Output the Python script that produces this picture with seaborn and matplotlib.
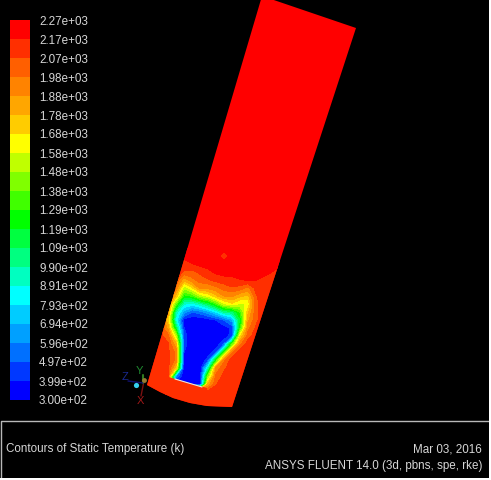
import matplotlib
matplotlib.use("Agg")
import matplotlib.pyplot as plt
from matplotlib.colors import ListedColormap
from matplotlib.patches import Polygon
import numpy as np
import seaborn as sns

# colour scale, top of the legend first
level_labels = ["2.27e+03", "2.17e+03", "2.07e+03", "1.98e+03", "1.88e+03", "1.78e+03", "1.68e+03",
                "1.58e+03", "1.48e+03", "1.38e+03", "1.29e+03", "1.19e+03", "1.09e+03", "9.90e+02",
                "8.91e+02", "7.93e+02", "6.94e+02", "5.96e+02", "4.97e+02", "3.99e+02", "3.00e+02"]
band_colors = ["#ff0000", "#ff2f00", "#ff5f00", "#ff8300", "#ffa600", "#ffcc00", "#ffff00",
               "#c0ff00", "#80ff00", "#40ff00", "#00ff00", "#00ff40", "#00ff80", "#00ffc0",
               "#00ffff", "#00ccff", "#00a0ff", "#0070ff", "#0038ff", "#0000ff"]

# tube outline, picture pixels
tube_x = [262, 356, 232, 207, 190, 173, 160, 147]
tube_y = [-4, 28, 407, 406, 403, 398, 392, 385]
inlet_x = [175, 202]
inlet_y = [379, 387]

# static temperature (K)
field_x = [144, 152, 160, 168, 176, 184, 192, 200, 208, 216, 224, 232, 240, 248, 256, 264, 272, 280]
field_y = [248, 256, 264, 272, 280, 288, 296, 304, 312, 320, 328, 336, 344, 352, 360, 368, 376, 384, 392, 400, 408]
temperature = [
    [2220, 2220, 2220, 2220, 2220, 2220, 2220, 2220, 2220, 2220, 2220, 2220, 2220, 2220, 2220, 2220, 2220, 2220],
    [2220, 2220, 2220, 2220, 2190, 2200, 2220, 2220, 2220, 2220, 2120, 2220, 2220, 2220, 2220, 2220, 2220, 2220],
    [2120, 2120, 2120, 2120, 2120, 2120, 2165, 2200, 2220, 2220, 2220, 2220, 2220, 2220, 2220, 2220, 2220, 2190],
    [2120, 2120, 2120, 2120, 2120, 2060, 2040, 2090, 2140, 2190, 2220, 2220, 2220, 2220, 2220, 2220, 2170, 2120],
    [2120, 2120, 2120, 2120, 2070, 1800, 1950, 2020, 2060, 2100, 2120, 2130, 2165, 2175, 2175, 2130, 2120, 2120],
    [2120, 2120, 2120, 2090, 1950, 1500, 1650, 1900, 1900, 1950, 2020, 2060, 2030, 1950, 2100, 2120, 2120, 2120],
    [2120, 2120, 2120, 2040, 1750, 1250, 1300, 1500, 1600, 1750, 1880, 1900, 1800, 1750, 2060, 2120, 2120, 2120],
    [2120, 2120, 2100, 1950, 1350, 900, 850, 950, 1100, 1300, 1550, 1650, 1550, 1600, 2040, 2120, 2120, 2120],
    [2120, 2120, 2060, 1850, 950, 650, 500, 550, 650, 800, 1000, 1050, 1300, 1750, 2050, 2120, 2120, 2120],
    [2120, 2120, 2030, 1700, 850, 350, 320, 320, 350, 400, 500, 650, 1150, 1850, 2050, 2120, 2120, 2120],
    [2120, 2120, 2080, 1850, 1100, 400, 300, 300, 300, 300, 350, 420, 1250, 1950, 2080, 2120, 2120, 2120],
    [2120, 2120, 2100, 2020, 1500, 450, 300, 300, 300, 300, 320, 450, 1650, 2030, 2120, 2120, 2120, 2120],
    [2120, 2120, 2120, 2080, 1800, 450, 300, 300, 300, 320, 500, 1300, 1950, 2120, 2120, 2120, 2120, 2120],
    [2120, 2120, 2120, 2090, 1950, 400, 300, 300, 320, 450, 1250, 1950, 2120, 2120, 2120, 2120, 2120, 2120],
    [2120, 2120, 2120, 2100, 1950, 330, 300, 300, 450, 1200, 1950, 2120, 2120, 2120, 2120, 2120, 2120, 2120],
    [2120, 2120, 2120, 2100, 1700, 300, 300, 300, 900, 1900, 2050, 2120, 2120, 2120, 2120, 2120, 2120, 2120],
    [2120, 2120, 2120, 2100, 600, 300, 300, 300, 1400, 2000, 2100, 2120, 2120, 2120, 2120, 2120, 2120, 2120],
    [2120, 2120, 2120, 2100, 300, 300, 300, 300, 1800, 2060, 2120, 2120, 2120, 2120, 2120, 2120, 2120, 2120],
    [2120, 2120, 2120, 2120, 2120, 2120, 2120, 2120, 2120, 2120, 2120, 2120, 2120, 2120, 2120, 2120, 2120, 2120],
    [2120, 2120, 2120, 2120, 2120, 2120, 2120, 2120, 2120, 2120, 2120, 2120, 2120, 2120, 2120, 2120, 2120, 2120],
    [2120, 2120, 2120, 2120, 2120, 2120, 2120, 2120, 2120, 2120, 2120, 2120, 2120, 2120, 2120, 2120, 2120, 2120],
]

title_text = "Contours of Static Temperature (k)"
date_text = "Mar 03, 2016"
solver_text = "ANSYS FLUENT 14.0 (3d, pbns, spe, rke)"

sns.set_theme(style="white")
plt.rcParams["font.family"] = ["Liberation Sans", "DejaVu Sans"]

W, H = 491, 480
TEXT = "#d6d6d6"
fig = plt.figure(figsize=(W / 100, H / 100), dpi=100, facecolor="white")

# main window, in picture pixels
ax = fig.add_axes([0, 2 / H, 489 / W, 478 / H])
ax.set_xlim(0, 489)
ax.set_ylim(478, 0)
ax.set_facecolor("black")
ax.set_xticks([])
ax.set_yticks([])
for sp in ax.spines.values():
    sp.set_visible(False)

levels = sorted(float(l) for l in level_labels)
cmap = ListedColormap(band_colors[::-1])

tube = Polygon(list(zip(tube_x, tube_y)), closed=True, facecolor=band_colors[0], edgecolor="none", zorder=1)
ax.add_patch(tube)
cs = ax.contourf(field_x, field_y, np.array(temperature), levels=levels, cmap=cmap, zorder=2)
cs.set_clip_path(tube)

# sharp edge below the inlet
under = Polygon([(165, 376), (207, 388), (207, 395), (165, 395)], closed=True,
                facecolor=band_colors[1], edgecolor="none", zorder=3)
ax.add_patch(under)
under.set_clip_path(tube)
ax.plot(inlet_x, inlet_y, color="#e8e8e8", lw=0.8, zorder=4)

# axis triad
ax.plot([144, 141], [381, 396], color="#7a1010", lw=1, zorder=5)
ax.plot([143, 143], [375, 383], color="#2f7a20", lw=1.5, zorder=5)
ax.plot([128, 143], [381, 383], color="#101070", lw=1, zorder=5)
ax.scatter([136], [385], s=14, color="#35d0f0", zorder=6, linewidths=0)
ax.scatter([144], [380], s=12, color="#9a7a30", zorder=6, linewidths=0)
ax.text(140, 401, "X", color="#a01818", fontsize=8, ha="center", va="center", zorder=7)
ax.text(139.5, 371, "Y", color="#1f8a30", fontsize=8, ha="center", va="center", zorder=7)
ax.text(125.5, 377, "Z", color="#1a2a90", fontsize=8, ha="center", va="center", zorder=7)

# caption box
ax.plot([1, 1, 489], [478, 421, 421], color="#b8b8b8", lw=1, zorder=5)
ax.text(6, 449, title_text, color=TEXT, fontsize=8.4, ha="left", va="center")
ax.text(482, 449, date_text, color=TEXT, fontsize=8.4, ha="right", va="center")
ax.text(482, 466, solver_text, color=TEXT, fontsize=8.4, ha="right", va="center")

# legend colour bar
cax = fig.add_axes([10 / W, 1 - 400 / H, 20 / W, 380 / H])
bar = np.arange(len(band_colors))[:, None]
sns.heatmap(bar, ax=cax, cmap=ListedColormap(band_colors), cbar=False, xticklabels=False, linewidths=0)
cax.yaxis.tick_right()
cax.set_yticks(np.arange(len(level_labels)))
cax.set_yticklabels(level_labels, rotation=0, color=TEXT, fontsize=8.4)
cax.tick_params(axis="y", length=0, pad=6.5)

fig.savefig("out.png", dpi=100, facecolor="white")
